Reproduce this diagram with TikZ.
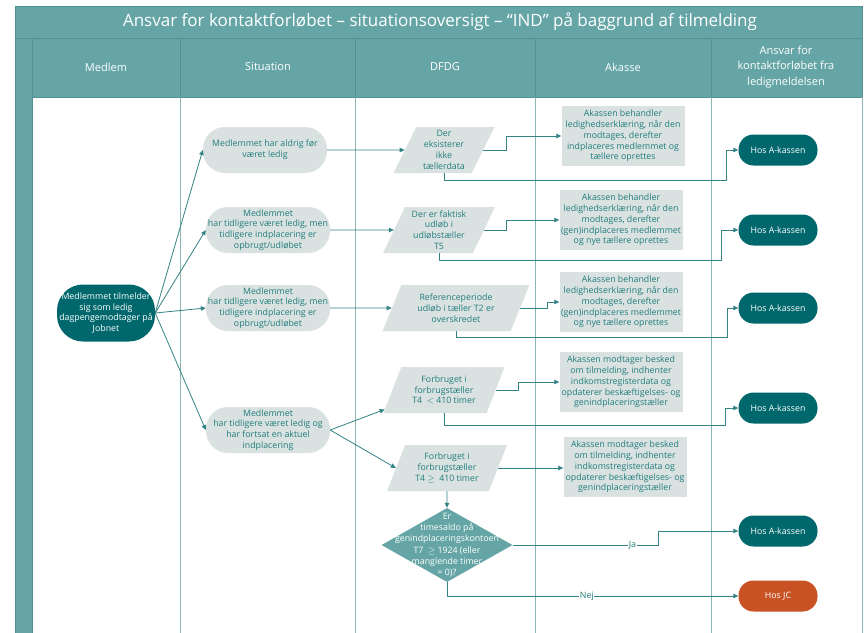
\documentclass[tikz,border=0pt]{standalone}
\usepackage{fontspec}
\setmainfont{Open Sans}
\usetikzlibrary{shapes.geometric, arrows.meta, positioning, calc}
\definecolor{bandteal}{RGB}{101,165,166}
\definecolor{bandline}{RGB}{80,145,146}
\definecolor{darkteal}{RGB}{0,104,108}
\definecolor{greyfill}{RGB}{218,226,225}
\definecolor{tealtext}{RGB}{32,124,124}
\definecolor{flowline}{RGB}{52,132,133}
\definecolor{laneline}{RGB}{140,182,182}
\definecolor{jcorange}{RGB}{200,82,36}

\tikzset{
  nodetext/.style={font=\fontsize{8.8}{10.8}\selectfont, align=center},
  headtext/.style={font=\fontsize{11}{15.5}\selectfont, align=center, text=white},
  sitbox/.style={nodetext, fill=greyfill, text=tealtext, rounded corners=22pt,
    minimum width=124pt, minimum height=46pt, inner sep=1pt},
  startbox/.style={nodetext, fill=darkteal, text=white, rounded corners=26pt,
    minimum width=98pt, minimum height=57pt, inner sep=1pt},
  paracell/.style={nodetext, trapezium, trapezium left angle=66, trapezium right angle=114,
    trapezium stretches=true, fill=greyfill, text=tealtext, minimum height=46pt, inner sep=1pt},
  akbox/.style={nodetext, fill=greyfill, text=tealtext, minimum width=123pt,
    minimum height=60pt, inner sep=1pt},
  endpill/.style={nodetext, fill=darkteal, text=white, rounded corners=15pt,
    minimum width=79pt, minimum height=31pt},
  decbox/.style={diamond, fill=bandteal, minimum width=131pt, minimum height=74pt, inner sep=0pt},
  flow/.style={draw=flowline, line width=0.8pt, -{Triangle[length=5pt,width=4.5pt]}},
  lbl/.style={font=\fontsize{8.8}{10}\selectfont, text=tealtext, fill=white, inner sep=0.5pt}
}

\begin{document}
\begin{tikzpicture}[x=1pt, y=-1pt]
  \useasboundingbox (0,0) rectangle (864,632);
  \clip (0,0) rectangle (864,632);
  \fill[white] (0,0) rectangle (864,632);

  % title band, header row and lanes
  \draw[fill=bandteal, draw=bandline] (15,6) rectangle (862,38);
  \node[headtext, font=\fontsize{17}{20}\selectfont] (title) at (440,22)
    {Ansvar for kontaktforløbet – situationsoversigt – “IND” på baggrund af tilmelding};
  \draw[fill=bandteal, draw=bandline] (15,38) rectangle (32,640);
  \draw[fill=bandteal, draw=bandline] (32,38) rectangle (862,97);
  \foreach \x in {180,355,535,711} {
    \draw[bandline] (\x,38) -- (\x,97);
    \draw[laneline, line width=1pt] (\x,97) -- (\x,640);
  }
  \draw[laneline, line width=1pt] (862,97) -- (862,640);
  \node[headtext] (hmed) at (106,67) {Medlem};
  \node[headtext] (hsit) at (268,67) {Situation};
  \node[headtext] (hdfdg) at (445,67) {DFDG};
  \node[headtext] (hak) at (623,67) {Akasse};
  \node[headtext] (hans) at (786,67) {Ansvar for\\kontaktforløbet fra\\ledigmeldelsen};

  % medlem
  \node[startbox] (start) at (106,313)
    {Medlemmet tilmelder\\sig som ledig\\dagpengemodtager på\\Jobnet};

  % situation
  \node[sitbox] (s1) at (265,150) {Medlemmet har aldrig før\\været ledig};
  \node[sitbox] (s2) at (268,230)
    {Medlemmet\\har tidligere været ledig, men\\tidligere indplacering er\\opbrugt/udløbet};
  \node[sitbox] (s3) at (268,308)
    {Medlemmet\\har tidligere været ledig, men\\tidligere indplacering er\\opbrugt/udløbet};
  \node[sitbox] (s4) at (268,430)
    {Medlemmet\\har tidligere været ledig og\\har fortsat en aktuel\\indplacering};

  % DFDG
  \node[paracell, minimum width=102pt] (d1) at (444,150) {Der\\eksisterer\\ikke\\tællerdata};
  \node[paracell, minimum width=112pt] (d2) at (439,230) {Der er faktisk\\udløb i\\udløbstæller\\T5};
  \node[paracell, minimum width=147pt] (d3) at (456,308)
    {Referenceperiode\\udløb i tæller T2 er\\overskredet};
  \node[paracell, minimum width=122pt] (d4) at (444,390)
    {Forbruget i\\forbrugstæller\\T4 \ $<$ 410 timer};
  \node[paracell, minimum width=121pt] (d5) at (447,468)
    {Forbruget i\\forbrugstæller\\T4 $\geq$ \ 410 timer};
  \node[decbox, label={[nodetext, text=white, font=\fontsize{8.8}{11.3}\selectfont]center:%
    {Er\\timesaldo på\\genindplaceringskontoen\\T7 \ $\geq$ 1924 (eller\\manglende timer\\= 0)?}}]
    (dec) at (447,545) {};

  % akasse
  \node[akbox] (a1) at (623,136)
    {Akassen behandler\\ledighedserklæring, når den\\modtages, derefter\\indplaceres medlemmet og\\tællere oprettes};
  \node[akbox] (a2) at (621,220)
    {Akassen behandler\\ledighedserklæring, når den\\modtages, derefter\\(gen)indplaceres medlemmet\\og nye tællere oprettes};
  \node[akbox] (a3) at (621,302)
    {Akassen behandler\\ledighedserklæring, når den\\modtages, derefter\\(gen)indplaceres medlemmet\\og nye tællere oprettes};
  \node[akbox] (a4) at (621,382)
    {Akassen modtager besked\\om tilmelding, indhenter\\indkomstregisterdata og\\opdaterer beskæftigelses- og\\genindplaceringstæller};
  \node[akbox] (a5) at (625,467)
    {Akassen modtager besked\\om tilmelding, indhenter\\indkomstregisterdata og\\opdaterer beskæftigelses- og\\genindplaceringstæller};

  % ansvar
  \node[endpill] (r1) at (778,150) {Hos A-kassen};
  \node[endpill] (r2) at (778,230) {Hos A-kassen};
  \node[endpill] (r3) at (778,308) {Hos A-kassen};
  \node[endpill] (r4) at (778,408) {Hos A-kassen};
  \node[endpill] (r5) at (778,531) {Hos A-kassen};
  \node[endpill, fill=jcorange] (r6) at (778,596) {Hos JC};

  % connectors
  \foreach \s in {s1,s2,s3,s4}
    \draw[flow] (start.east) -- (\s.west);
  \draw[flow] (s1.east) -- (d1.west);
  \draw[flow] (s2.east) -- (d2.west);
  \draw[flow] (s3.east) -- (d3.west);
  \draw[flow] (s4.east) -- ($(d4.bottom left corner)!0.08!(d4.top left corner)$);
  \draw[flow] (s4.east) -- (d5.west);

  \draw[flow] (d1.east) -- ++(23,0) |- (a1.west);
  \draw[flow] (d2.east) -- ++(22,0) |- (a2.west);
  \draw[flow] (d3.east) -- ++(27,0) |- (a3.west);
  \draw[flow] (d4.east) -- ++(23,0) |- (a4.west);
  \draw[flow] (d5.east) -- (d5.east -| a5.west);

  \draw[flow] (d1.south) -- ++(0,7) -| ([xshift=-12pt]r1.west) -- (r1.west);
  \draw[flow] (d2.south) -- ++(0,7) -| ([xshift=-17pt]r2.west) -- (r2.west);
  \draw[flow] (d3.south) -- ++(0,6) -| ([xshift=-11pt]r3.west) -- (r3.west);
  \draw[flow] (d4.south) -- ++(0,12) -| ([xshift=-13pt]r4.west) -- (r4.west);

  \draw[flow] (d5.south) -- (dec.north);
  \draw[flow] (dec.east) -- ++(146,0) node[lbl, pos=0.82] {Ja} |- (r5.west);
  \draw[flow] (dec.south) |- (r6.west) node[lbl, pos=0.74] {Nej};
\end{tikzpicture}
\end{document}
